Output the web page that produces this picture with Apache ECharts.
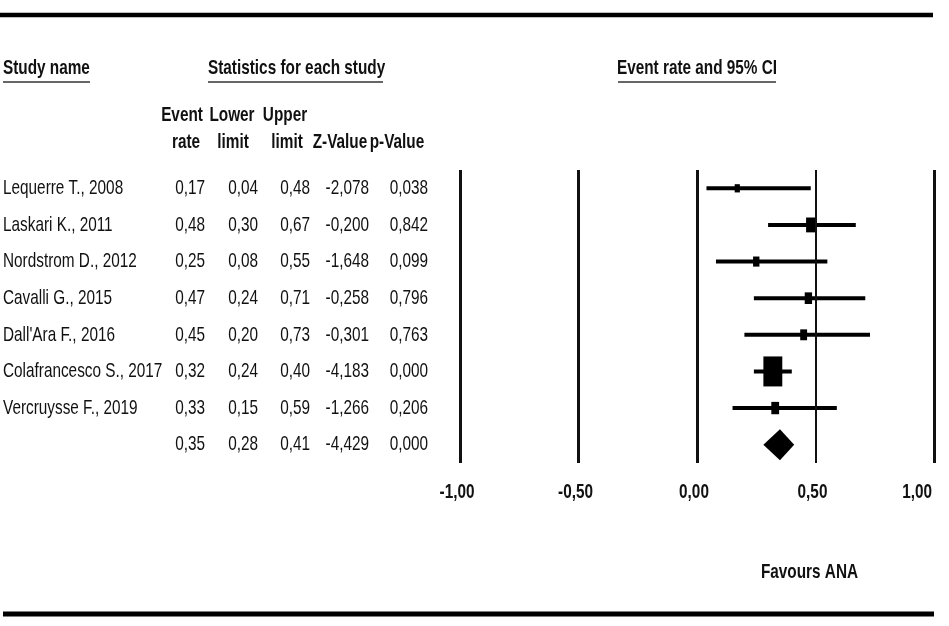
<!DOCTYPE html>
<html>
<head>
<meta charset="utf-8">
<script src="https://cdn.jsdelivr.net/npm/echarts@6/dist/echarts.min.js"></script>
<style>
  html, body { margin: 0; padding: 0; background: #fff; }
  #chart { width: 949px; height: 626px; }
</style>
</head>
<body>
<div id="chart"></div>
<script>
// Study-level results (event rate with 95% CI)
const studies = [
  'Lequerre T., 2008',
  'Laskari K., 2011',
  'Nordstrom D., 2012',
  'Cavalli G., 2015',
  "Dall'Ara F., 2016",
  'Colafrancesco S., 2017',
  'Vercruysse F., 2019'
];
const eventRate  = [0.17, 0.48, 0.25, 0.47, 0.45, 0.32, 0.33];
const lowerLimit = [0.04, 0.30, 0.08, 0.24, 0.20, 0.24, 0.15];
const upperLimit = [0.48, 0.67, 0.55, 0.71, 0.73, 0.40, 0.59];
const zValue     = [-2.078, -0.200, -1.648, -0.258, -0.301, -4.183, -1.266];
const pValue     = [0.038, 0.842, 0.099, 0.796, 0.763, 0.000, 0.206];
// Relative weight of each study (%)
const relWeight  = [4, 13, 6, 8, 7, 53, 9];

// Pooled estimate
const pooledRate  = 0.35;
const pooledLower = 0.28;
const pooledUpper = 0.41;
const pooledZ     = -4.429;
const pooledP     = 0.000;

// Axis ticks
const tickValues = [-1, -0.5, 0, 0.5, 1];

const fmt = (v, d) => v.toFixed(d).replace('.', ',');

const chart = echarts.init(document.getElementById('chart'), null, { renderer: 'canvas' });

const FONT = '"Liberation Sans", Arial, sans-serif';
const SX = 0.73;           // condensed look of the typeface
const INK = '#111';

const rowNames = studies.concat(['Pooled']);

const studyData = studies.map((s, i) => [i, eventRate[i], lowerLimit[i], upperLimit[i], relWeight[i]]);
const pooledData = [[studies.length, pooledRate, pooledLower, pooledUpper]];

const maxW = Math.max.apply(null, relWeight);

chart.setOption({
  animation: false,
  backgroundColor: '#fff',
  grid: { left: 460, right: 15, top: 170, bottom: 163 },
  xAxis: {
    type: 'value', min: -1, max: 1, interval: 0.5,
    axisLine: { show: false }, axisTick: { show: false },
    axisLabel: { show: false }, splitLine: { show: false }
  },
  yAxis: {
    type: 'category', data: rowNames, inverse: true,
    axisLine: { show: false }, axisTick: { show: false },
    axisLabel: { show: false }, splitLine: { show: false }
  },
  series: [
    {
      name: 'studies',
      type: 'custom',
      data: studyData,
      encode: { x: [1, 2, 3], y: 0 },
      renderItem: function (params, api) {
        const row = api.value(0);
        const c = api.coord([api.value(1), row]);
        const lo = api.coord([api.value(2), row]);
        const hi = api.coord([api.value(3), row]);
        const h = 30 * Math.sqrt(api.value(4) / maxW);
        const w = h * 0.63;
        return {
          type: 'group',
          children: [
            {
              type: 'line',
              shape: { x1: lo[0], y1: lo[1], x2: hi[0], y2: hi[1] },
              style: { stroke: '#000', lineWidth: 4 }
            },
            {
              type: 'rect',
              shape: { x: c[0] - w / 2, y: c[1] - h / 2, width: w, height: h },
              style: { fill: '#000' }
            }
          ]
        };
      },
      markLine: {
        silent: true,
        symbol: ['none', 'none'],
        label: { show: false },
        data: tickValues.map(v => ({
          xAxis: v,
          lineStyle: { color: INK, type: 'solid', width: v === 0.5 ? 2 : 3 }
        }))
      },
      z: 3
    },
    {
      name: 'pooled',
      type: 'custom',
      data: pooledData,
      encode: { x: [1, 2, 3], y: 0 },
      renderItem: function (params, api) {
        const row = api.value(0);
        const c = api.coord([api.value(1), row]);
        const lo = api.coord([api.value(2), row]);
        const hi = api.coord([api.value(3), row]);
        const half = 15.5;
        return {
          type: 'polygon',
          shape: { points: [[lo[0], c[1]], [c[0], c[1] - half], [hi[0], c[1]], [c[0], c[1] + half]] },
          style: { fill: '#000' }
        };
      },
      z: 3
    }
  ]
});

// Text layer: table, headers, tick labels
function txt(x, y, text, opts) {
  opts = opts || {};
  const bold = opts.bold ? 'bold ' : '';
  const align = opts.align || 'left';
  return {
    type: 'text',
    x: x, y: y,
    scaleX: SX,
    silent: true,
    style: {
      text: text,
      font: bold + (opts.size || 21) + 'px ' + FONT,
      fill: INK,
      align: align, textAlign: align,
      verticalAlign: 'middle', textVerticalAlign: 'middle'
    }
  };
}
function hline(x1, x2, y, width, color) {
  return {
    type: 'line',
    silent: true,
    shape: { x1: x1, y1: y, x2: x2, y2: y },
    style: { stroke: color || '#000', lineWidth: width }
  };
}

const rowY = rowNames.map((n, i) => chart.convertToPixel({ yAxisIndex: 0 }, n));
const xPix = v => chart.convertToPixel({ xAxisIndex: 0 }, v);

const colRight = [205, 258, 310, 369, 428];
const els = [];

// rules
els.push(hline(0, 933, 15, 4.5, '#000'));
els.push(hline(3, 934, 614, 5, '#000'));

// section headings
els.push(txt(3, 68, 'Study name', { bold: true }));
els.push(hline(3, 90, 82, 2, '#666'));
els.push(txt(208, 68, 'Statistics for each study', { bold: true }));
els.push(hline(208, 383, 82, 2, '#666'));
els.push(txt(697, 68, 'Event rate and 95% CI', { bold: true, align: 'center' }));
els.push(hline(618, 776, 82, 2, '#666'));

// column headings
els.push(txt(182, 115, 'Event', { bold: true, align: 'center' }));
els.push(txt(186, 142, 'rate', { bold: true, align: 'center' }));
els.push(txt(232, 115, 'Lower', { bold: true, align: 'center' }));
els.push(txt(233, 142, 'limit', { bold: true, align: 'center' }));
els.push(txt(285, 115, 'Upper', { bold: true, align: 'center' }));
els.push(txt(287, 142, 'limit', { bold: true, align: 'center' }));
els.push(txt(340, 142, 'Z-Value', { bold: true, align: 'center' }));
els.push(txt(397, 142, 'p-Value', { bold: true, align: 'center' }));

// study rows
studies.forEach((s, i) => {
  const y = rowY[i];
  els.push(txt(3, y, s));
  els.push(txt(colRight[0], y, fmt(eventRate[i], 2), { align: 'right' }));
  els.push(txt(colRight[1], y, fmt(lowerLimit[i], 2), { align: 'right' }));
  els.push(txt(colRight[2], y, fmt(upperLimit[i], 2), { align: 'right' }));
  els.push(txt(colRight[3], y, fmt(zValue[i], 3), { align: 'right' }));
  els.push(txt(colRight[4], y, fmt(pValue[i], 3), { align: 'right' }));
});

// pooled row
const py = rowY[studies.length];
els.push(txt(colRight[0], py, fmt(pooledRate, 2), { align: 'right' }));
els.push(txt(colRight[1], py, fmt(pooledLower, 2), { align: 'right' }));
els.push(txt(colRight[2], py, fmt(pooledUpper, 2), { align: 'right' }));
els.push(txt(colRight[3], py, fmt(pooledZ, 3), { align: 'right' }));
els.push(txt(colRight[4], py, fmt(pooledP, 3), { align: 'right' }));

// x tick labels
tickValues.forEach((v, i) => {
  const last = i === tickValues.length - 1;
  els.push(txt(xPix(v) - (last ? 2 : 3), 492, fmt(v, 2), { bold: true, align: last ? 'right' : 'center' }));
});

// direction note
els.push(txt(xPix(0.5) - 6, 572, 'Favours ANA', { bold: true, align: 'center' }));

chart.setOption({ graphic: { elements: els } });
</script>
</body>
</html>
